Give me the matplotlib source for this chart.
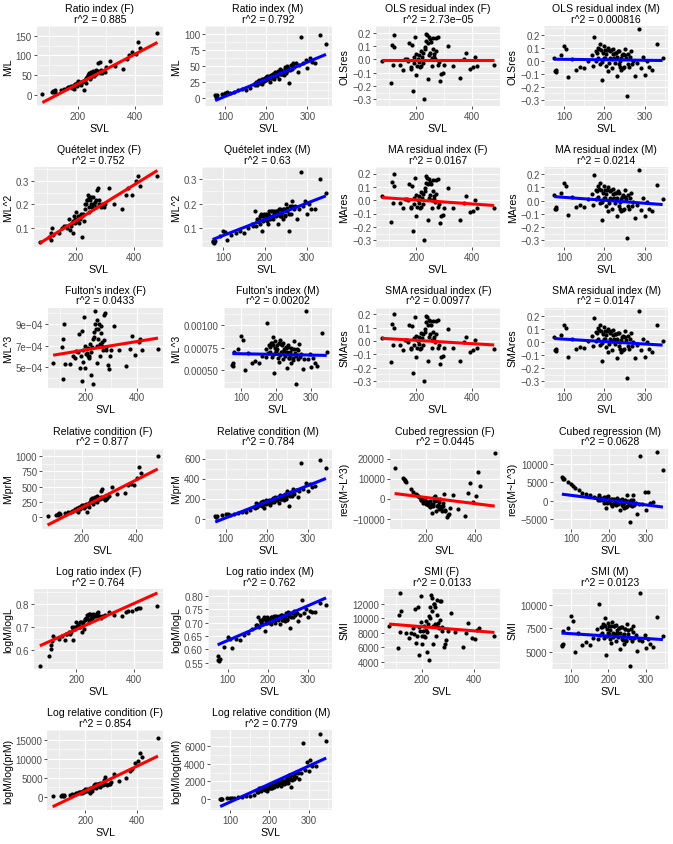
import numpy as np
import matplotlib
matplotlib.use("Agg")
import matplotlib.pyplot as plt

plt.rcParams["font.family"] = ["Liberation Sans", "DejaVu Sans"]

# ── Female data (SVL shared by all F panels) ─────────────────────────────
F_SVL = [75, 108, 112, 115, 118, 120, 140, 150, 160, 170,
         175, 180, 185, 188, 192, 196, 200, 205, 210, 215,
         220, 225, 228, 232, 236, 240, 243, 246, 250, 253,
         256, 260, 264, 268, 272, 276, 280, 285, 290, 300,
         312, 330, 358, 372, 380, 392, 405, 412, 420, 480,
         165, 182, 190, 198, 202, 208, 212, 218, 222, 230,
         234, 238, 245, 248, 255, 258, 262, 270, 278, 295]

ratio_F = [3, 8, 10, 6, 12, 8, 12, 15, 18, 20,
           22, 18, 25, 15, 28, 22, 35, 30, 25, 32,
           12, 38, 30, 45, 50, 55, 40, 58, 52, 60,
           48, 55, 62, 58, 80, 84, 62, 55, 60, 70,
           86, 72, 66, 90, 100, 110, 104, 133, 120, 157,
           20, 22, 26, 30, 28, 33, 30, 36, 34, 42,
           48, 52, 46, 55, 50, 58, 52, 60, 56, 58]
quet_F = [0.04, 0.06, 0.08, 0.05, 0.10, 0.07, 0.08, 0.10, 0.11, 0.10,
          0.14, 0.09, 0.12, 0.08, 0.15, 0.12, 0.17, 0.14, 0.12, 0.15,
          0.06, 0.16, 0.13, 0.20, 0.22, 0.24, 0.17, 0.23, 0.20, 0.23,
          0.19, 0.20, 0.21, 0.19, 0.26, 0.27, 0.22, 0.19, 0.20, 0.20,
          0.27, 0.20, 0.18, 0.24, 0.27, 0.24, 0.30, 0.32, 0.28, 0.32,
          0.11, 0.11, 0.13, 0.14, 0.13, 0.15, 0.14, 0.16, 0.15, 0.18,
          0.20, 0.22, 0.19, 0.22, 0.19, 0.23, 0.20, 0.22, 0.20, 0.19]
fulton_F = [0.00054, 0.00069, 0.00076, 0.00039, 0.00090, 0.00053, 0.00053, 0.00060, 0.00058, 0.00064,
            0.00081, 0.00049, 0.00084, 0.00037, 0.00055, 0.00097, 0.00049, 0.00063, 0.00060, 0.00058,
            0.00042, 0.00069, 0.00034, 0.00078, 0.00102, 0.00085, 0.00054, 0.00094, 0.00076, 0.00090,
            0.00060, 0.00082, 0.00070, 0.00066, 0.00099, 0.00100, 0.00069, 0.00052, 0.00048, 0.00066,
            0.00088, 0.00066, 0.00051, 0.00067, 0.00079, 0.00061, 0.00073, 0.00076, 0.00066, 0.00067,
            0.00065, 0.00060, 0.00066, 0.00070, 0.00062, 0.00068, 0.00060, 0.00071, 0.00064, 0.00076,
            0.00083, 0.00090, 0.00070, 0.00085, 0.00071, 0.00088, 0.00073, 0.00075, 0.00066, 0.00060]
ols_F = [-0.01, -0.18, 0.11, -0.04, 0.18, 0.09, -0.04, -0.08, 0.00, -0.01,
         0.12, -0.06, 0.11, -0.24, -0.03, 0.17, -0.12, 0.00, -0.02, -0.05,
         0.02, 0.05, -0.30, 0.08, 0.19, 0.12, -0.15, 0.17, 0.05, 0.13,
         -0.05, 0.08, 0.02, 0.00, 0.16, 0.17, -0.02, -0.16, -0.11, -0.04,
         0.10, -0.05, -0.14, 0.00, 0.05, -0.07, -0.06, 0.02, -0.05, -0.04,
         0.00, -0.07, 0.02, 0.04, -0.05, 0.03, -0.06, 0.06, -0.03, 0.09,
         0.14, 0.18, 0.03, 0.15, 0.01, 0.16, 0.04, 0.06, -0.04, -0.10]
ma_F = [0.03, -0.16, 0.14, -0.02, 0.20, 0.11, -0.02, -0.06, 0.01, 0.00,
        0.12, -0.05, 0.11, -0.23, -0.03, 0.17, -0.12, 0.00, -0.02, -0.05,
        0.02, 0.05, -0.30, 0.07, 0.18, 0.12, -0.15, 0.16, 0.04, 0.12,
        -0.06, 0.07, 0.01, -0.01, 0.15, 0.16, -0.03, -0.17, -0.12, -0.06,
        0.09, -0.06, -0.15, -0.02, 0.03, -0.09, -0.08, 0.00, -0.06, -0.06,
        0.01, -0.06, 0.02, 0.04, -0.05, 0.03, -0.06, 0.06, -0.03, 0.09,
        0.13, 0.17, 0.02, 0.14, 0.00, 0.15, 0.03, 0.05, -0.05, -0.11]
sma_F = [0.02, -0.16, 0.13, -0.03, 0.20, 0.10, -0.03, -0.07, 0.01, -0.01,
         0.12, -0.05, 0.11, -0.24, -0.03, 0.18, -0.12, 0.00, -0.02, -0.05,
         0.02, 0.05, -0.30, 0.07, 0.19, 0.12, -0.15, 0.16, 0.05, 0.12,
         -0.05, 0.07, 0.01, -0.01, 0.15, 0.16, -0.03, -0.17, -0.12, -0.05,
         0.09, -0.05, -0.15, -0.01, 0.03, -0.08, -0.07, 0.01, -0.05, -0.06,
         0.01, -0.06, 0.02, 0.04, -0.05, 0.03, -0.06, 0.06, -0.03, 0.09,
         0.14, 0.18, 0.03, 0.15, 0.01, 0.15, 0.03, 0.05, -0.05, -0.11]
relc_F = [25, 40, 55, 30, 65, 45, 60, 80, 90, 100,
          130, 110, 150, 90, 170, 140, 200, 170, 150, 180,
          80, 210, 160, 250, 280, 300, 220, 310, 270, 300,
          250, 290, 310, 300, 420, 460, 310, 280, 300, 350,
          500, 380, 400, 520, 550, 530, 640, 820, 730, 1000,
          100, 130, 150, 180, 160, 200, 180, 220, 210, 250,
          290, 320, 270, 330, 290, 340, 300, 330, 310, 320]
cubed_F = [15500, 10500, 10000, 9500, 9000, 8500, 5000, 3500, 2500, 1500,
           1000, -500, 0, -2000, -1000, 500, -2500, -1500, -2000, -3000,
           -4000, -2500, -7000, -3500, 1000, -1000, -6000, -500, -3000, -1500,
           -5000, -3500, -4500, -6000, -2000, 2500, -5500, -9000, -8000, -4500,
           2000, -5000, -8500, 3000, 7800, -1800, 1500, 13500, 6500, 23000,
           2000, -500, -300, -800, -2000, -1500, -3000, -1000, -3500, -2500,
           -500, 1200, -3500, 0, -4000, 0, -4500, -3500, -6000, -7500]
logr_F = [0.535, 0.575, 0.605, 0.625, 0.64, 0.66, 0.65, 0.66, 0.645, 0.67,
          0.68, 0.67, 0.70, 0.645, 0.70, 0.69, 0.72, 0.71, 0.70, 0.72,
          0.68, 0.72, 0.69, 0.735, 0.74, 0.75, 0.72, 0.755, 0.74, 0.75,
          0.73, 0.745, 0.75, 0.745, 0.76, 0.765, 0.745, 0.74, 0.745, 0.75,
          0.765, 0.75, 0.745, 0.765, 0.77, 0.77, 0.775, 0.78, 0.78, 0.79,
          0.67, 0.68, 0.69, 0.70, 0.70, 0.71, 0.70, 0.72, 0.71, 0.73,
          0.74, 0.75, 0.73, 0.755, 0.74, 0.755, 0.745, 0.75, 0.745, 0.745]
smi_F = [9000, 5900, 10500, 8100, 13500, 11000, 8000, 7300, 8000, 7800,
         11200, 6600, 11500, 4900, 8300, 13000, 6500, 8300, 7600, 8400,
         5400, 9200, 4300, 10000, 13200, 11000, 6500, 12000, 9200, 11600,
         7600, 10400, 8800, 8600, 12400, 12300, 8800, 6000, 6500, 8300,
         10700, 8100, 6100, 8000, 9300, 7300, 7200, 8400, 8700, 7500,
         8700, 7500, 8800, 9500, 7600, 9000, 7400, 9600, 8100, 10300,
         11500, 12800, 9000, 12000, 9000, 12500, 9300, 9800, 8300, 7000]
logrc_F = [200, 300, 400, 250, 450, 350, 500, 700, 800, 900,
           1200, 1000, 1400, 900, 1600, 1400, 2000, 1700, 1500, 1800,
           900, 2100, 1600, 2600, 3000, 3200, 2300, 3300, 2900, 3300,
           2700, 3100, 3400, 3200, 4500, 5200, 3400, 3100, 3300, 3800,
           6000, 4200, 5000, 6800, 7400, 9000, 9500, 11500, 10500, 15400,
           1000, 1300, 1500, 1800, 1600, 2000, 1800, 2200, 2100, 2600,
           3000, 3400, 2800, 3500, 3000, 3600, 3200, 3500, 3300, 3500]

# ── Male data (SVL shared by all M panels) ───────────────────────────────
M_SVL = [75, 77, 78, 80, 92, 100, 105, 110, 120, 130,
         140, 150, 160, 170, 175, 178, 182, 185, 188, 190,
         193, 196, 199, 202, 205, 208, 210, 213, 216, 219,
         222, 225, 228, 230, 233, 236, 239, 242, 245, 248,
         250, 253, 256, 259, 262, 265, 268, 272, 276, 280,
         285, 290, 296, 300, 305, 310, 318, 330, 345,
         172, 180, 184, 187, 192, 195, 198, 201, 204, 207,
         211, 215, 218, 221, 224, 227, 232, 235, 238, 241,
         244, 247, 252, 258, 264]

ratio_M = [4, 3, 2, 4, 7, 8, 9, 8, 10, 12,
           14, 12, 16, 22, 25, 20, 28, 24, 22, 30,
           26, 32, 28, 34, 30, 25, 36, 32, 38, 30,
           40, 35, 42, 30, 45, 38, 42, 36, 48, 40,
           50, 44, 23, 52, 45, 55, 48, 54, 40, 52,
           95, 55, 60, 47, 62, 57, 55, 99, 84,
           20, 26, 24, 28, 30, 27, 33, 29, 32, 35,
           31, 37, 33, 39, 36, 40, 38, 43, 37, 41,
           45, 39, 47, 43, 50]
quet_M = [0.045, 0.05, 0.04, 0.05, 0.07, 0.09, 0.085, 0.055, 0.075, 0.08,
          0.09, 0.08, 0.10, 0.12, 0.17, 0.11, 0.13, 0.14, 0.12, 0.16,
          0.09, 0.15, 0.14, 0.16, 0.13, 0.12, 0.17, 0.15, 0.17, 0.14,
          0.16, 0.15, 0.17, 0.12, 0.18, 0.15, 0.16, 0.14, 0.18, 0.15,
          0.20, 0.17, 0.09, 0.19, 0.16, 0.21, 0.18, 0.19, 0.14, 0.18,
          0.33, 0.19, 0.21, 0.16, 0.20, 0.18, 0.18, 0.30, 0.245,
          0.11, 0.14, 0.13, 0.15, 0.15, 0.13, 0.16, 0.14, 0.15, 0.16,
          0.14, 0.17, 0.15, 0.17, 0.155, 0.17, 0.16, 0.18, 0.15, 0.165,
          0.18, 0.155, 0.185, 0.16, 0.19]
fulton_M = [0.00056, 0.00055, 0.00058, 0.00070, 0.00074, 0.00088, 0.00083, 0.00050, 0.00069, 0.00058,
            0.00060, 0.00058, 0.00066, 0.00074, 0.00102, 0.00069, 0.00076, 0.00080, 0.00065, 0.00087,
            0.00047, 0.00075, 0.00071, 0.00078, 0.00064, 0.00059, 0.00083, 0.00070, 0.00078, 0.00062,
            0.00073, 0.00066, 0.00075, 0.00053, 0.00076, 0.00064, 0.00067, 0.00058, 0.00074, 0.00061,
            0.00082, 0.00069, 0.00035, 0.00074, 0.00062, 0.00079, 0.00065, 0.00068, 0.00051, 0.00063,
            0.00115, 0.00062, 0.00068, 0.00054, 0.00064, 0.00058, 0.00055, 0.00091, 0.00070,
            0.00065, 0.00078, 0.00070, 0.00080, 0.00078, 0.00068, 0.00082, 0.00070, 0.00074, 0.00080,
            0.00067, 0.00079, 0.00070, 0.00080, 0.00071, 0.00076, 0.00070, 0.00078, 0.00064, 0.00070,
            0.00075, 0.00064, 0.00074, 0.00066, 0.00072]
ols_M = [0.02, -0.08, -0.07, -0.09, 0.04, 0.11, 0.09, -0.13, 0.01, -0.07,
         -0.05, -0.06, 0.00, 0.04, 0.18, 0.00, 0.06, 0.10, -0.03, 0.13,
         -0.15, 0.06, 0.02, 0.08, -0.04, -0.08, 0.10, 0.02, 0.08, -0.06,
         0.05, -0.02, 0.06, -0.12, 0.07, -0.03, 0.00, -0.07, 0.05, -0.05,
         0.09, 0.02, -0.27, 0.05, -0.05, 0.07, -0.03, 0.00, -0.12, -0.02,
         0.24, -0.06, 0.03, -0.11, 0.00, -0.05, -0.07, 0.13, 0.02,
         -0.04, 0.07, 0.02, 0.09, 0.08, -0.01, 0.11, 0.02, 0.05, 0.08,
         -0.02, 0.07, 0.01, 0.09, 0.02, 0.06, 0.03, 0.07, -0.05, 0.02,
         0.04, -0.06, 0.04, -0.03, 0.03]
ma_M = [0.045, -0.06, -0.05, -0.065, 0.06, 0.13, 0.11, -0.11, 0.03, -0.05,
        -0.035, -0.045, 0.01, 0.05, 0.19, 0.01, 0.07, 0.11, -0.02, 0.13,
        -0.15, 0.06, 0.02, 0.08, -0.04, -0.08, 0.10, 0.02, 0.08, -0.06,
        0.05, -0.02, 0.06, -0.12, 0.07, -0.04, -0.01, -0.08, 0.04, -0.06,
        0.08, 0.01, -0.28, 0.04, -0.06, 0.06, -0.04, -0.01, -0.13, -0.03,
        0.23, -0.07, 0.02, -0.12, -0.01, -0.06, -0.08, 0.12, 0.01,
        -0.03, 0.08, 0.03, 0.09, 0.08, -0.01, 0.11, 0.02, 0.05, 0.08,
        -0.02, 0.07, 0.01, 0.09, 0.02, 0.06, 0.02, 0.06, -0.06, 0.01,
        0.03, -0.07, 0.03, -0.04, 0.02]
sma_M = [0.04, -0.065, -0.055, -0.07, 0.055, 0.125, 0.105, -0.115, 0.025, -0.055,
         -0.04, -0.05, 0.01, 0.045, 0.185, 0.005, 0.065, 0.105, -0.025, 0.13,
         -0.15, 0.06, 0.02, 0.08, -0.04, -0.08, 0.10, 0.02, 0.08, -0.06,
         0.05, -0.02, 0.06, -0.12, 0.07, -0.035, -0.005, -0.075, 0.045, -0.055,
         0.085, 0.015, -0.28, 0.045, -0.055, 0.065, -0.035, -0.005, -0.125, -0.025,
         0.235, -0.065, 0.025, -0.115, -0.005, -0.055, -0.075, 0.125, 0.01,
         -0.035, 0.075, 0.025, 0.09, 0.08, -0.01, 0.11, 0.02, 0.05, 0.08,
         -0.02, 0.07, 0.01, 0.09, 0.02, 0.06, 0.025, 0.065, -0.055, 0.015,
         0.035, -0.065, 0.035, -0.035, 0.025]
relc_M = [25, 20, 15, 25, 35, 50, 45, 40, 50, 60,
          70, 65, 90, 120, 160, 115, 140, 150, 130, 170,
          110, 160, 150, 175, 155, 140, 190, 170, 200, 165,
          210, 190, 220, 160, 240, 200, 220, 190, 250, 210,
          280, 240, 130, 270, 230, 300, 250, 290, 220, 280,
          555, 300, 360, 280, 350, 320, 330, 590, 510,
          110, 150, 140, 165, 175, 150, 185, 160, 175, 190,
          165, 205, 180, 215, 190, 210, 200, 230, 195, 215,
          235, 200, 250, 230, 265]
cubed_M = [6500, 6300, 6000, 5800, 5000, 4500, 4000, 3500, 2800, 2200,
           1800, 1500, 1000, 800, 1500, 200, 500, 600, -500, 800,
           -2000, 0, -300, 300, -800, -1500, 400, -500, 200, -1200,
           -200, -800, 0, -2500, 200, -1200, -800, -2000, 0, -1500,
           1500, -1000, -5800, 300, -1500, 1500, -1200, -500, -3500, -1000,
           12200, -1000, 2500, -2500, 2300, -500, -300, 13200, 8200,
           300, 800, 200, 1000, 900, -500, 1200, -300, 200, 600,
           -900, 500, -600, 800, -500, 300, -200, 500, -1500, -500,
           300, -1800, 0, -1200, 200]
logr_M = [0.575, 0.56, 0.555, 0.565, 0.61, 0.645, 0.64, 0.605, 0.64, 0.635,
          0.655, 0.66, 0.675, 0.69, 0.72, 0.685, 0.70, 0.71, 0.695, 0.72,
          0.67, 0.71, 0.70, 0.715, 0.70, 0.695, 0.72, 0.71, 0.725, 0.70,
          0.72, 0.71, 0.725, 0.695, 0.73, 0.71, 0.72, 0.705, 0.735, 0.715,
          0.74, 0.725, 0.68, 0.735, 0.72, 0.745, 0.73, 0.735, 0.705, 0.73,
          0.785, 0.735, 0.75, 0.72, 0.745, 0.74, 0.74, 0.775, 0.765,
          0.69, 0.71, 0.705, 0.715, 0.715, 0.70, 0.72, 0.705, 0.71, 0.72,
          0.705, 0.72, 0.71, 0.725, 0.715, 0.72, 0.72, 0.73, 0.71, 0.72,
          0.73, 0.71, 0.735, 0.72, 0.74]
smi_M = [5700, 5600, 5800, 7200, 7500, 8800, 8300, 5000, 7000, 5700,
         6000, 5700, 6500, 7400, 10100, 6800, 7600, 8000, 6500, 8600,
         4700, 7400, 7000, 7800, 6400, 5900, 8200, 7000, 7800, 6200,
         7300, 6600, 7500, 5300, 7600, 6400, 6700, 5800, 7400, 6100,
         8000, 6900, 3500, 7400, 6200, 7800, 6500, 6800, 5100, 6300,
         11300, 6200, 6800, 5400, 6400, 5800, 5500, 8700, 6700,
         6400, 7700, 7000, 7900, 7800, 6700, 8100, 6900, 7300, 7800,
         6600, 7800, 6900, 7900, 7000, 7500, 7000, 7700, 6300, 6900,
         7400, 6300, 7300, 6500, 7100]
logrc_M = [50, 30, 20, 60, 100, 150, 130, 120, 180, 250,
           300, 350, 500, 800, 1200, 900, 1100, 1200, 1000, 1400,
           900, 1300, 1300, 1500, 1300, 1200, 1700, 1500, 1800, 1500,
           1900, 1700, 2000, 1500, 2200, 1900, 2000, 1800, 2400, 2000,
           2700, 2300, 1400, 2700, 2300, 3000, 2500, 2900, 2300, 3000,
           6400, 3300, 4200, 3200, 4400, 3800, 3700, 7400, 6600,
           850, 1200, 1100, 1300, 1400, 1200, 1500, 1300, 1450, 1600,
           1400, 1700, 1550, 1850, 1650, 1850, 1800, 2100, 1750, 2000,
           2250, 1850, 2400, 2200, 2600]

NEG = ["\u22120.3", "\u22120.2", "\u22120.1", "0.0", "0.1", "0.2"]
RES_T = [-0.3, -0.2, -0.1, 0.0, 0.1, 0.2]

# ── Panel metadata: (title, r^2 label, y label, y data, sex, lm fit (intercept, slope), y ticks, y tick labels)
panels = [
    ("Ratio index (F)", "0.885", "M/L", ratio_F, "F", (-48.3, 0.378),
     [0, 50, 100, 150], ["0", "50", "100", "150"]),
    ("Ratio index (M)", "0.792", "M/L", ratio_M, "M", (-24.0, 0.267),
     [0, 25, 50, 75, 100], ["0", "25", "50", "75", "100"]),
    ("OLS residual index (F)", "2.73e\u221205", "OLSres", ols_F, "F", (-0.002, 0.0), RES_T, NEG),
    ("OLS residual index (M)", "0.000816", "OLSres", ols_M, "M", (0.0128, -3.7e-5), RES_T, NEG),

    ("Qu\u00e9telet index (F)", "0.752", "M/L^2", quet_F, "F", (-0.0224, 7.65e-4),
     [0.1, 0.2, 0.3], ["0.1", "0.2", "0.3"]),
    ("Qu\u00e9telet index (M)", "0.63", "M/L^2", quet_M, "M", (0.0058, 6.56e-4),
     [0.1, 0.2, 0.3], ["0.1", "0.2", "0.3"]),
    ("MA residual index (F)", "0.0167", "MAres", ma_F, "F", (0.031, -1.48e-4), RES_T, NEG),
    ("MA residual index (M)", "0.0214", "MAres", ma_M, "M", (0.0467, -2.22e-4), RES_T, NEG),

    ("Fulton's index (F)", "0.0433", "M/L^3", fulton_F, "F", (5.80e-4, 3.95e-7),
     [5e-4, 7e-4, 9e-4], ["5e\u221204", "7e\u221204", "9e\u221204"]),
    ("Fulton's index (M)", "0.00202", "M/L^3", fulton_M, "M", (6.905e-4, -7.4e-8),
     [0.0005, 0.00075, 0.001], ["0.00050", "0.00075", "0.00100"]),
    ("SMA residual index (F)", "0.00977", "SMAres", sma_F, "F", (0.0293, -1.23e-4), RES_T, NEG),
    ("SMA residual index (M)", "0.0147", "SMAres", sma_M, "M", (0.0389, -1.85e-4), RES_T, NEG),

    ("Relative condition (F)", "0.877", "M/prM", relc_F, "F", (-300.4, 2.27),
     [0, 250, 500, 750, 1000], ["0", "250", "500", "750", "1000"]),
    ("Relative condition (M)", "0.784", "M/prM", relc_M, "M", (-155.8, 1.611),
     [0, 200, 400, 600], ["0", "200", "400", "600"]),
    ("Cubed regression (F)", "0.0445", "res(M~L^3)", cubed_F, "F", (3667, -15.56),
     [-10000, 0, 10000, 20000], ["\u221210000", "0", "10000", "20000"]),
    ("Cubed regression (M)", "0.0628", "res(M~L^3)", cubed_M, "M", (2772, -12.96),
     [-5000, 0, 5000, 10000], ["\u22125000", "0", "5000", "10000"]),

    ("Log ratio index (F)", "0.764", "logM/logL", logr_F, "F", (0.5783, 5.56e-4),
     [0.6, 0.7, 0.8], ["0.6", "0.7", "0.8"]),
    ("Log ratio index (M)", "0.762", "logM/logL", logr_M, "M", (0.568, 6.52e-4),
     [0.55, 0.60, 0.65, 0.70, 0.75, 0.80], ["0.55", "0.60", "0.65", "0.70", "0.75", "0.80"]),
    ("SMI (F)", "0.0133", "SMI", smi_F, "F", (9413, -2.84),
     [4000, 6000, 8000, 10000, 12000], ["4000", "6000", "8000", "10000", "12000"]),
    ("SMI (M)", "0.0123", "SMI", smi_M, "M", (7194, -2.59),
     [5000, 7500, 10000], ["5000", "7500", "10000"]),

    ("Log relative condition (F)", "0.854", "logM/log(prM)", logrc_F, "F", (-5063, 32.84),
     [0, 5000, 10000, 15000], ["0", "5000", "10000", "15000"]),
    ("Log relative condition (M)", "0.779", "logM/log(prM)", logrc_M, "M", (-2378, 20.37),
     [0, 2000, 4000, 6000], ["0", "2000", "4000", "6000"]),
]

SVL = {"F": F_SVL, "M": M_SVL}
XTICKS = {"F": [200, 400], "M": [100, 200, 300]}
LINE_COL = {"F": "#FF0000", "M": "#0000FF"}


def minor_between(ticks):
    step = ticks[1] - ticks[0]
    return np.arange(ticks[0] - step / 2, ticks[-1] + step, step)


def padded(lo, hi, frac=0.05):
    d = (hi - lo) * frac
    return lo - d, hi + d


W, H = 673, 845
fig = plt.figure(figsize=(W / 100, H / 100), dpi=100)
cw, ch = W / 4, H / 6

placed = []
for k, (name, r2, ylab, yv, sex, (b0, b1), yt, ytl) in enumerate(panels):
    r, c = divmod(k, 4)
    x0, y0 = c * cw, r * ch
    left, right = x0 + 40, x0 + cw - 5
    top, bottom = y0 + 27, y0 + 107
    ax = fig.add_axes([left / W, 1 - bottom / H, (right - left) / W, (bottom - top) / H])

    x = np.asarray(SVL[sex], float)
    y = np.asarray(yv, float)
    xl = np.array([x.min(), x.max()])
    yl = b0 + b1 * xl

    ax.set_facecolor("#EBEBEB")
    for s in ax.spines.values():
        s.set_visible(False)
    ax.scatter(x, y, s=9, color="black", linewidths=0, zorder=3)
    ax.plot(xl, yl, color=LINE_COL[sex], lw=2.2, zorder=4, solid_capstyle="butt")

    ax.set_xlim(*padded(x.min(), x.max()))
    ax.set_ylim(*padded(min(y.min(), yl.min()), max(y.max(), yl.max())))

    ax.set_xticks(XTICKS[sex])
    ax.set_xticks(minor_between(XTICKS[sex]), minor=True)
    ax.set_yticks(yt)
    ax.set_yticklabels(ytl)
    ax.set_yticks(minor_between(yt), minor=True)

    ax.grid(which="major", color="white", lw=0.8)
    ax.grid(which="minor", color="white", lw=0.4)
    ax.set_axisbelow(True)
    ax.tick_params(which="major", labelsize=7.0, labelcolor="#4D4D4D", color="#333333",
                   length=2.2, width=0.6, pad=1.2)
    ax.tick_params(which="minor", length=0)

    ax.set_xlabel("SVL", fontsize=7.6, labelpad=1.5)
    ax.set_ylabel(ylab, fontsize=7.6, labelpad=2)
    ax.set_title(f"{name}\nr^2 = {r2}", fontsize=7.6, pad=3, linespacing=1.1)
    placed.append((ax, x0, top, bottom, right))

# shift each panel so its y labels start just inside its grid cell
fig.canvas.draw()
rend = fig.canvas.get_renderer()
for ax, x0, top, bottom, right in placed:
    ybb = ax.yaxis.get_tightbbox(rend)
    deco = ax.bbox.x0 - ybb.x0
    left = x0 + 3 + deco
    ax.set_position([left / W, 1 - bottom / H, (right - left) / W, (bottom - top) / H])

fig.savefig("out.png", dpi=100)
